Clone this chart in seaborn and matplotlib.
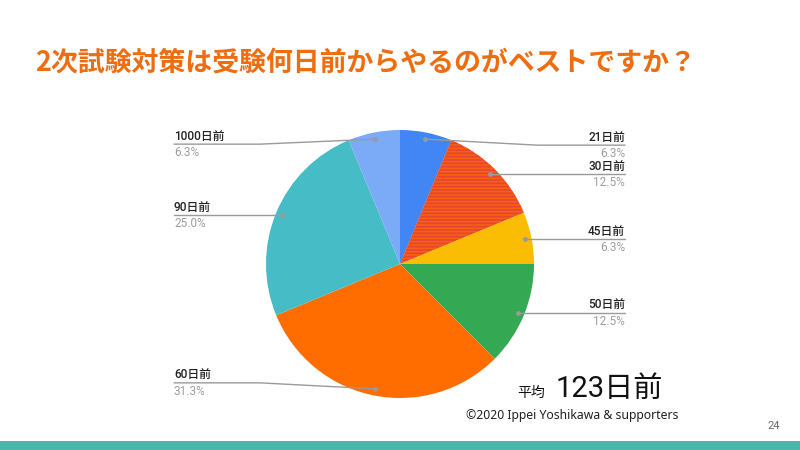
import numpy as np
import matplotlib
matplotlib.use("Agg")
import matplotlib.pyplot as plt
import seaborn as sns

# Data (16 answers)
labels = ["21日前", "30日前", "45日前", "50日前", "60日前", "90日前", "1000日前"]
counts = [1, 2, 1, 2, 5, 4, 1]
slice_colors = ["#4285f4", "#ea4335", "#fbbc04", "#34a853", "#ff6d01", "#46bdc6", "#7baaf7"]
title = "2次試験対策は受験何日前からやるのがベストですか？"
average_text = "123日前"
credit = "©2020 Ippei Yoshikawa & supporters"
page_no = "24"

sns.set_theme(style="white")
plt.rcParams["font.family"] = ["Roboto", "Noto Sans CJK JP", "DejaVu Sans"]
plt.rcParams["hatch.linewidth"] = 1.2

W, H = 800, 450
CX, CY, R = 400, 264, 134          # pie centre / radius in pixels (y down)
def Y(y):
    return H - y

fig = plt.figure(figsize=(8, 4.5), dpi=100)
ax = fig.add_axes([0, 0, 1, 1])

palette = sns.color_palette(slice_colors)
wedges, _ = ax.pie(counts, colors=palette, startangle=90, counterclock=False,
                   center=(CX, Y(CY)), radius=R,
                   wedgeprops=dict(linewidth=0))
# the 30日前 slice is rendered with orange stripes in the original
wedges[1].set_hatch("-----")
wedges[1].set_edgecolor("#f2620f")
wedges[1].set_linewidth(0)

ax.set_xlim(0, W)
ax.set_ylim(0, H)
ax.set_aspect("equal")
ax.axis("off")

total = sum(counts)
pcts = [np.floor(c / total * 1000 + 0.5) / 10 for c in counts]

# leader line vertical nudges (pixels) so labels don't collide
nudge = [6, 0, 0, 0, -6, 0, 5]
lab_font = ["Roboto", "Noto Sans CJK JP"]
for w, lab, p, dy in zip(wedges, labels, pcts, nudge):
    ang = np.deg2rad((w.theta1 + w.theta2) / 2)
    px = CX + 0.95 * R * np.cos(ang)
    py = CY - 0.95 * R * np.sin(ang)
    ly = py + dy
    right = np.cos(ang) > 0
    if right:
        tx, bx, ha = 625, CX + R + 3, "right"
    else:
        tx, bx, ha = 174, CX - R - 6, "left"
    ax.plot([tx, bx, px], [Y(ly), Y(ly), Y(py)], color="#9a9a9a", lw=1, zorder=3)
    ax.plot([px], [Y(py)], "o", ms=2.5, color="#9a9a9a", zorder=4)
    ax.text(tx, Y(ly - 1.5), lab, ha=ha, va="bottom", fontsize=8.5,
            color="#222222", family=lab_font, weight="medium")
    ax.text(tx, Y(ly + 2), f"{p:.1f}%", ha=ha, va="top", fontsize=8.5,
            color="#9e9e9e", family=lab_font)

ax.text(35, Y(63), title, ha="left", va="center", fontsize=19.4,
        fontweight="bold", color="#ef6d11", family=["Noto Sans CJK JP"])

ax.text(545, Y(393), "平均", ha="right", va="center", fontsize=10,
        color="#111111", family=["Noto Sans CJK JP"])
ax.text(556, Y(389), average_text, ha="left", va="center", fontsize=21,
        color="#111111", family=lab_font)
ax.text(466, Y(415), credit, ha="left", va="center", fontsize=8.8,
        color="#222222", family=["Noto Sans", "DejaVu Sans"])
ax.text(780, Y(426), page_no, ha="right", va="center", fontsize=8,
        color="#666666", family=["Roboto"])

ax.add_patch(plt.Rectangle((0, 0), W, H - 441, color="#4db6ac", lw=0))

fig.savefig("out.png", dpi=100)
